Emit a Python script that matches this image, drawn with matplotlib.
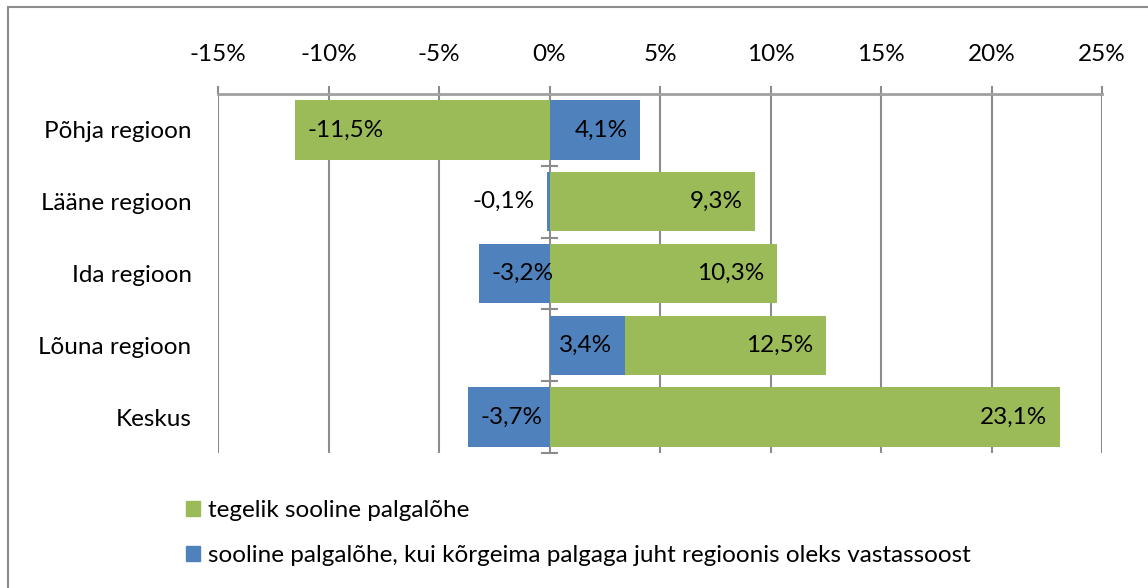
import matplotlib
matplotlib.use("Agg")
import matplotlib.pyplot as plt
from matplotlib.patches import Patch, Rectangle

# data (percent)
regions = ["Põhja regioon", "Lääne regioon", "Ida regioon", "Lõuna regioon", "Keskus"]
actual_gap = [-11.5, 9.3, 10.3, 12.5, 23.1]
swapped_gap = [4.1, -0.1, -3.2, 3.4, -3.7]
ticks = [-15, -10, -5, 0, 5, 10, 15, 20, 25]

series_names = ["tegelik sooline palgalõhe",
                "sooline palgalõhe, kui kõrgeima palgaga juht regioonis oleks vastassoost"]

GREEN = "#9BBB59"
BLUE = "#4F81BD"
GRID = "#8C8C8C"
FS = 17.5

plt.rcParams["font.family"] = ["Lato", "DejaVu Sans"]
plt.rcParams["font.size"] = FS

W, H = 1148, 588
fig = plt.figure(figsize=(W / 100, H / 100), dpi=100)
ax = fig.add_axes([218 / W, 1 - 453 / H, (1102 - 218) / W, (453 - 94) / H])

y = list(range(len(regions)))
ax.barh(y, actual_gap, height=0.83, color=GREEN, zorder=3)
ax.barh(y, swapped_gap, height=0.83, color=BLUE, zorder=4)


def fmt(v):
    return f"{v:.1f}%".replace(".", ",")


def label(v, yi, inside=True):
    if inside:
        off = -9 if v > 0 else 9
        ha = "right" if v > 0 else "left"
    else:
        off = 9 if v > 0 else -9
        ha = "left" if v > 0 else "right"
    ax.annotate(fmt(v), (v, yi), xytext=(off, 0), textcoords="offset points",
                ha=ha, va="center", fontsize=FS, color="black", zorder=6)


for i, v in enumerate(actual_gap):
    label(v, i)
for i, v in enumerate(swapped_gap):
    label(v, i, inside=abs(v) > 1)

ax.set_xlim(-15, 25)
ax.set_ylim(len(regions) - 0.5, -0.5)
ax.set_xticks(ticks)
ax.set_xticklabels([f"{t}%" for t in ticks])
ax.xaxis.tick_top()
ax.tick_params(axis="x", direction="out", length=6, width=1.5, color=GRID, pad=15)
ax.tick_params(axis="y", length=0, pad=19)
ax.set_yticks(y)
ax.set_yticklabels(regions)
ax.grid(axis="x", color=GRID, linewidth=1.5, zorder=1)
for s in ["bottom", "left", "right"]:
    ax.spines[s].set_visible(False)
ax.spines["top"].set_color("#A0A0A0")
ax.spines["top"].set_linewidth(2)

# small category ticks crossing the zero line
for b in [i + 0.5 for i in y]:
    ax.plot([-0.36, 0.36], [b, b], color=GRID, lw=1.5, zorder=5, clip_on=False)

# legend
handles = [Patch(color=GREEN), Patch(color=BLUE)]
fig.legend(handles, series_names, loc="upper left",
           bbox_to_anchor=(164 / W, 1 - 478 / H), frameon=False,
           handlelength=0.6, handleheight=0.6, handletextpad=0.3,
           labelspacing=1.0, fontsize=FS)

# chart border
fig.patches.append(Rectangle((8 / W, -0.05), 1.2, 1 - 7 / H + 0.05,
                             transform=fig.transFigure, fill=False,
                             edgecolor="#8C8C8C", linewidth=1.5))

fig.savefig("out.png", dpi=100)
